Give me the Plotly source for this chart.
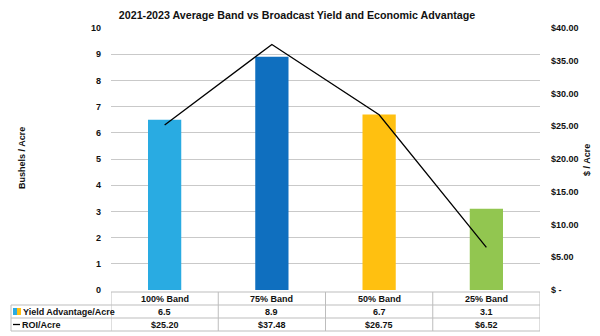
import plotly.graph_objects as go

# Data
categories = ["100% Band", "75% Band", "50% Band", "25% Band"]
yield_adv = [6.5, 8.9, 6.7, 3.1]          # bushels / acre
roi = [25.20, 37.48, 26.75, 6.52]         # $ / acre
bar_colors = ["#29ABE2", "#0F6FBF", "#FFC010", "#92C650"]
left_ticks = list(range(0, 11))
right_ticks = list(range(0, 41, 5))

FONT = "Liberation Sans, Arial, sans-serif"
GRID = "#c9c9c9"
BORDER = "#bdbdbd"
TXT = "#111"

x = list(range(len(categories)))

fig = go.Figure()
fig.add_trace(go.Bar(
    x=x, y=yield_adv, marker=dict(color=bar_colors, line=dict(width=0)),
    width=0.31, showlegend=False, hoverinfo="skip",
))
fig.add_trace(go.Scatter(
    x=x, y=roi, yaxis="y2", mode="lines",
    line=dict(color="black", width=1.3), showlegend=False, hoverinfo="skip",
))

def money(v):
    return "$ -" if v == 0 else f"${v:,.2f}"

W, H = 600, 336
L, R, T, B = 111, 60, 28, 46
plot_h = H - T - B

def py(pix):
    """pixel row -> paper y"""
    return (H - B - pix) / plot_h

def px(pix):
    """pixel column -> paper x"""
    return (pix - L) / (W - L - R)

small = dict(family=FONT, size=9, weight="bold", color=TXT)

fig.update_layout(
    width=W, height=H,
    margin=dict(l=L, r=R, t=T, b=B),
    paper_bgcolor="white", plot_bgcolor="white",
    font=dict(family=FONT, size=9, color=TXT),
    xaxis=dict(range=[-0.5, len(categories) - 0.5], showticklabels=False,
               showgrid=False, zeroline=False, showline=False, fixedrange=True),
    yaxis=dict(range=[0, 10], tickvals=left_ticks, showgrid=True, gridcolor=GRID,
               gridwidth=1, zeroline=False, showline=False,
               ticklabelstandoff=9, tickfont=small),
    yaxis2=dict(range=[0, 40], overlaying="y", side="right", tickvals=right_ticks,
                ticktext=[money(v) for v in right_ticks], showgrid=False,
                zeroline=False, showline=False, ticklabelstandoff=10, tickfont=small),
    title=dict(text="2021-2023 Average Band vs Broadcast Yield and Economic Advantage",
               xref="container", x=297 / W, xanchor="center",
               yref="container", y=1 - 15 / H, yanchor="middle",
               font=dict(family=FONT, size=10.7, weight="bold", color=TXT)),
)

annotations = []
shapes = []

# axis titles
annotations.append(dict(text="Bushels / Acre", x=px(22), y=py(158), xref="paper", yref="paper",
                        xanchor="center", yanchor="middle", textangle=-90, showarrow=False,
                        font=small))
annotations.append(dict(text="$ / Acre", x=px(587), y=py(160), xref="paper", yref="paper",
                        xanchor="center", yanchor="middle", textangle=-90, showarrow=False,
                        font=small))

# data table below the plot
row_edges = [292, 305, 318, 331]
label_left = 11
n = len(categories)

def hline(y0pix, x0, x1, xref):
    shapes.append(dict(type="line", xref=xref, yref="paper", x0=x0, x1=x1,
                       y0=py(y0pix), y1=py(y0pix), line=dict(color=BORDER, width=1)))

# horizontal rules
hline(row_edges[0], -0.5, n - 0.5, "x")
for r in row_edges[1:]:
    hline(r, -0.5, n - 0.5, "x")
    hline(r, px(label_left), 0, "paper")
# vertical rules
for i in range(n + 1):
    shapes.append(dict(type="line", xref="x", yref="paper", x0=i - 0.5, x1=i - 0.5,
                       y0=py(row_edges[0]), y1=py(row_edges[-1]),
                       line=dict(color=BORDER, width=1)))
shapes.append(dict(type="line", xref="paper", yref="paper", x0=px(label_left), x1=px(label_left),
                   y0=py(row_edges[1]), y1=py(row_edges[-1]), line=dict(color=BORDER, width=1)))

rows = [categories, [f"{v:.1f}" for v in yield_adv], [f"${v:.2f}" for v in roi]]
for ri, row in enumerate(rows):
    yc = py((row_edges[ri] + row_edges[ri + 1]) / 2)
    for ci, txt in enumerate(row):
        annotations.append(dict(text=txt, x=ci, y=yc, xref="x", yref="paper",
                                xanchor="center", yanchor="middle",
                                showarrow=False, font=small))

# row labels with legend keys
y1c = py((row_edges[1] + row_edges[2]) / 2)
y2c = py((row_edges[2] + row_edges[3]) / 2)
shapes.append(dict(type="rect", xref="paper", yref="paper",
                   x0=px(13), x1=px(17), y0=py(315), y1=py(308),
                   fillcolor="#29ABE2", line=dict(width=0)))
shapes.append(dict(type="rect", xref="paper", yref="paper",
                   x0=px(17), x1=px(21), y0=py(315), y1=py(308),
                   fillcolor="#FFC010", line=dict(width=0)))
annotations.append(dict(text="Yield Advantage/Acre", x=px(21), y=y1c, xref="paper",
                        yref="paper", xanchor="left", yanchor="middle",
                        showarrow=False, font=small))
shapes.append(dict(type="line", xref="paper", yref="paper",
                   x0=px(13), x1=px(20), y0=y2c, y1=y2c,
                   line=dict(color="black", width=1.3)))
annotations.append(dict(text="ROI/Acre", x=px(20), y=y2c, xref="paper",
                        yref="paper", xanchor="left", yanchor="middle",
                        showarrow=False, font=small))

fig.update_layout(annotations=annotations, shapes=shapes)

fig.write_html("out.html")
